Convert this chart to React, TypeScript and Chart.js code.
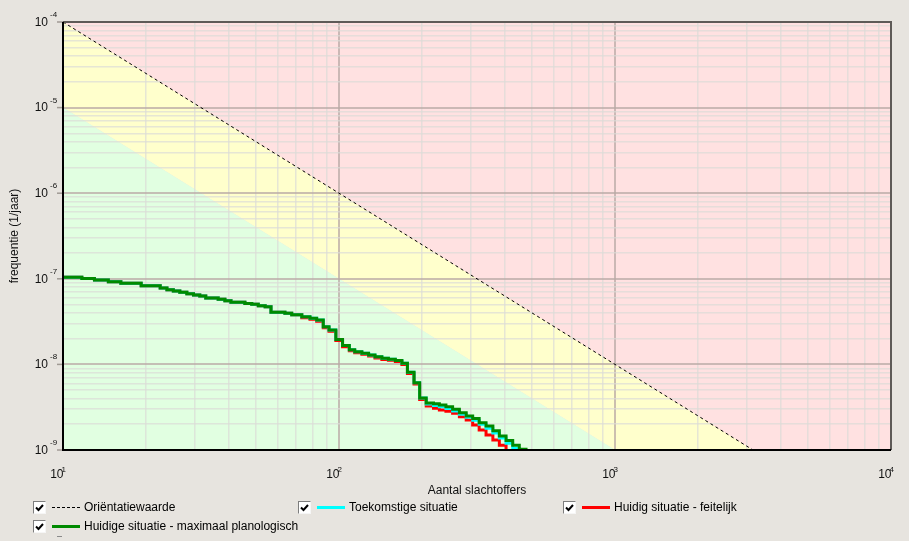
import { useEffect, useRef } from 'react';
import { Chart, registerables, type ChartConfiguration, type Plugin } from 'chart.js';

Chart.register(...registerables);

// axis decades (powers of ten) and the minor grid steps inside each decade
const xDecades = [1, 2, 3, 4];
const yDecades = [-9, -8, -7, -6, -5, -4];
const minorSteps = [2, 3, 4, 5, 6, 7, 8, 9];

// orientatiewaarde (1e-2 / N^2) and the lower limit of the yellow band (1e-3 / N^2)
const limitN = [10, 10000];
const orientF = [1e-4, 1e-10];
const lowerF = [1e-5, 1e-11];

// FN curves (step drops at these N)
const stepN = [
  10, 11.7, 13, 14.6, 16.2, 19.2, 22.5, 23.8, 25.1, 26.5, 28.1, 29.7, 31.3, 32.9, 36.5, 38.6,
  40.6, 45.6, 48.3, 51, 54, 56.7, 63.7, 67.4, 73.3, 78.5, 83, 87.7, 92, 97.4, 103, 109,
  114, 121, 128, 135, 143, 151, 160, 169, 177, 187, 196, 207, 220, 231, 244, 258,
  273, 289, 305, 322, 341, 361, 381, 403, 426, 450, 476,
];
const greenF = [
  1.04e-7, 1.01e-7, 9.7e-8, 9.25e-8, 8.85e-8, 8.3e-8, 7.8e-8, 7.47e-8, 7.2e-8, 6.95e-8, 6.7e-8, 6.47e-8, 6.3e-8, 5.97e-8, 5.75e-8, 5.55e-8,
  5.31e-8, 5.16e-8, 5.03e-8, 4.85e-8, 4.72e-8, 4.06e-8, 3.95e-8, 3.81e-8, 3.61e-8, 3.46e-8, 3.3e-8, 2.76e-8, 2.52e-8, 1.96e-8, 1.66e-8, 1.48e-8,
  1.41e-8, 1.35e-8, 1.29e-8, 1.23e-8, 1.18e-8, 1.15e-8, 1.11e-8, 1.03e-8, 8.1e-9, 6.1e-9, 4.05e-9, 3.55e-9, 3.48e-9, 3.36e-9, 3.21e-9, 2.99e-9,
  2.73e-9, 2.49e-9, 2.34e-9, 2.08e-9, 1.91e-9, 1.68e-9, 1.46e-9, 1.29e-9, 1.14e-9, 1.02e-9, 5e-10,
];
const redF = [
  1.04e-7, 1.01e-7, 9.7e-8, 9.25e-8, 8.85e-8, 8.3e-8, 7.8e-8, 7.47e-8, 7.2e-8, 6.95e-8, 6.7e-8, 6.47e-8, 6.3e-8, 5.97e-8, 5.75e-8, 5.55e-8,
  5.31e-8, 5.16e-8, 5.03e-8, 4.85e-8, 4.72e-8, 4.06e-8, 3.95e-8, 3.81e-8, 3.5e-8, 3.36e-8, 3.2e-8, 2.68e-8, 2.44e-8, 1.9e-8, 1.61e-8, 1.44e-8,
  1.37e-8, 1.31e-8, 1.25e-8, 1.19e-8, 1.14e-8, 1.12e-8, 1.08e-8, 1e-8, 7.85e-9, 5.9e-9, 3.9e-9, 3.27e-9, 3.07e-9, 2.93e-9, 2.83e-9, 2.68e-9,
  2.45e-9, 2.24e-9, 1.96e-9, 1.71e-9, 1.5e-9, 1.31e-9, 1.14e-9, 5e-10, 5e-10, 5e-10, 5e-10,
];
const cyanF = [
  1.04e-7, 1.01e-7, 9.7e-8, 9.25e-8, 8.85e-8, 8.3e-8, 7.8e-8, 7.47e-8, 7.2e-8, 6.95e-8, 6.7e-8, 6.47e-8, 6.3e-8, 5.97e-8, 5.75e-8, 5.55e-8,
  5.31e-8, 5.16e-8, 5.03e-8, 4.85e-8, 4.72e-8, 4.06e-8, 3.95e-8, 3.81e-8, 3.61e-8, 3.46e-8, 3.3e-8, 2.76e-8, 2.52e-8, 1.96e-8, 1.66e-8, 1.48e-8,
  1.41e-8, 1.35e-8, 1.29e-8, 1.23e-8, 1.18e-8, 1.15e-8, 1.11e-8, 1.03e-8, 8.1e-9, 6.1e-9, 4.05e-9, 3.45e-9, 3.3e-9, 3.2e-9, 3.05e-9, 2.85e-9,
  2.62e-9, 2.42e-9, 2.22e-9, 2.0e-9, 1.8e-9, 1.58e-9, 1.38e-9, 1.2e-9, 1.04e-9, 5e-10, 5e-10,
];

const legendItems = [
  { label: 'Oriëntatiewaarde', color: '#000000', dash: true, col: 0, row: 0 },
  { label: 'Toekomstige situatie', color: '#00ffff', dash: false, col: 1, row: 0 },
  { label: 'Huidig situatie - feitelijk', color: '#ff0000', dash: false, col: 2, row: 0 },
  { label: 'Huidige situatie - maximaal planologisch', color: '#008a00', dash: false, col: 0, row: 1 },
];

const FONT = '"Liberation Sans", Arial, sans-serif';

function logTicks(decades: number[]) {
  const ticks: { value: number; major: boolean }[] = [];
  decades.forEach((e, i) => {
    ticks.push({ value: Number('1e' + e), major: true });
    if (i < decades.length - 1) {
      minorSteps.forEach(m => ticks.push({ value: Number(m + 'e' + e), major: false }));
    }
  });
  return ticks;
}

const axesPlugin: Plugin<'line'> = {
  id: 'fnAxes',
  afterDraw(chart) {
    const { ctx, chartArea: a } = chart;
    const xs = chart.scales.x;
    const ys = chart.scales.y;
    ctx.save();

    ctx.strokeStyle = '#a09a94';
    ctx.lineWidth = 1.5;
    yDecades.forEach(e => {
      const py = ys.getPixelForValue(Number('1e' + e));
      ctx.beginPath();
      ctx.moveTo(a.left - 6, py);
      ctx.lineTo(a.left, py);
      ctx.stroke();
    });

    ctx.lineWidth = 2;
    ctx.strokeStyle = '#5e5a57';
    ctx.beginPath();
    ctx.moveTo(a.left, a.top);
    ctx.lineTo(a.right, a.top);
    ctx.lineTo(a.right, a.bottom);
    ctx.stroke();
    ctx.strokeStyle = '#000';
    ctx.beginPath();
    ctx.moveTo(a.left, a.top);
    ctx.lineTo(a.left, a.bottom);
    ctx.lineTo(a.right, a.bottom);
    ctx.stroke();

    ctx.fillStyle = '#111';
    yDecades.forEach(e => {
      const py = ys.getPixelForValue(Number('1e' + e));
      ctx.font = '12px ' + FONT;
      ctx.textAlign = 'right';
      ctx.textBaseline = 'middle';
      ctx.fillText('10', a.left - 15, py + 0.5);
      ctx.font = '8px ' + FONT;
      ctx.textAlign = 'left';
      ctx.textBaseline = 'alphabetic';
      ctx.fillText(String(e), a.left - 13, py - 5);
    });
    xDecades.forEach(e => {
      const px = xs.getPixelForValue(Number('1e' + e));
      ctx.font = '12px ' + FONT;
      ctx.textAlign = 'right';
      ctx.textBaseline = 'middle';
      ctx.fillText('10', px + 0.5, a.bottom + 25);
      ctx.font = '8px ' + FONT;
      ctx.textAlign = 'left';
      ctx.textBaseline = 'alphabetic';
      ctx.fillText(String(e), px - 1.5, a.bottom + 21.5);
    });

    ctx.font = '12px ' + FONT;
    ctx.textAlign = 'center';
    ctx.textBaseline = 'middle';
    ctx.fillText('Aantal slachtoffers', (a.left + a.right) / 2, a.bottom + 41);
    ctx.translate(15, (a.top + a.bottom) / 2);
    ctx.rotate(-Math.PI / 2);
    ctx.fillText('frequentie (1/jaar)', 0, 0);
    ctx.restore();
  },
};

function CheckBox({ left, top }: { left: number; top: number }) {
  return (
    <div
      style={{
        position: 'absolute', left, top, width: 13, height: 13, boxSizing: 'border-box',
        background: '#fff', borderStyle: 'solid', borderWidth: 1,
        borderColor: '#7d7d7d #f6f6f6 #f6f6f6 #7d7d7d',
      }}
    >
      <svg width="11" height="11" style={{ display: 'block' }}>
        <polyline points="2,5.5 4.5,8 9,3" fill="none" stroke="#000" strokeWidth="2" />
      </svg>
    </div>
  );
}

export default function App() {
  const chartRef = useRef<HTMLCanvasElement>(null);
  const chartInstanceRef = useRef<Chart | null>(null);

  useEffect(() => {
    if (chartInstanceRef.current) {
      chartInstanceRef.current.destroy();
    }
    const canvas = chartRef.current;
    if (!canvas) {
      return;
    }

    const curve = (values: number[]) => stepN.map((n, i) => ({ x: n, y: values[i] }));
    const limit = (values: number[]) => limitN.map((n, i) => ({ x: n, y: values[i] }));

    const gridColor = (c: any) => (c.tick && c.tick.major ? 'rgba(185,170,165,0.75)' : 'rgba(220,220,215,0.7)');
    const gridWidth = (c: any) => (c.tick && c.tick.major ? 2 : 1.5);

    // zone fills are drawn before the grid: yellow first, then pink and green on top of it
    const config: ChartConfiguration<'line', { x: number; y: number }[], string> = {
      type: 'line',
      data: {
        datasets: [
          {
            label: 'Oriëntatiewaarde',
            data: limit(orientF),
            borderColor: '#000',
            borderWidth: 1,
            borderDash: [3, 3],
            backgroundColor: '#ffe1e1',
            fill: 'end',
            pointRadius: 0,
            order: 3,
          },
          {
            label: 'geel',
            data: limit(lowerF),
            borderWidth: 0,
            borderColor: 'rgba(0,0,0,0)',
            backgroundColor: '#ffffcc',
            fill: 'end',
            pointRadius: 0,
            order: 6,
          },
          {
            label: 'groen',
            data: limit(lowerF),
            borderWidth: 0,
            borderColor: 'rgba(0,0,0,0)',
            backgroundColor: '#e1ffe1',
            fill: 'start',
            pointRadius: 0,
            order: 5,
          },
          {
            label: 'Huidig situatie - feitelijk',
            data: curve(redF),
            borderColor: '#ff0000',
            borderWidth: 3,
            stepped: true,
            fill: false,
            pointRadius: 0,
            order: 2,
          },
          {
            label: 'Toekomstige situatie',
            data: curve(cyanF),
            borderColor: '#00ffff',
            borderWidth: 3,
            stepped: true,
            fill: false,
            pointRadius: 0,
            order: 1,
          },
          {
            label: 'Huidige situatie - maximaal planologisch',
            data: curve(greenF),
            borderColor: '#008a00',
            borderWidth: 3,
            stepped: true,
            fill: false,
            pointRadius: 0,
            order: 0,
          },
        ],
      },
      options: {
        animation: false,
        responsive: false,
        events: [],
        layout: { padding: { left: 63, top: 22, right: 18, bottom: 91 } },
        scales: {
          x: {
            type: 'logarithmic',
            min: 10,
            max: 10000,
            afterBuildTicks: axis => {
              axis.ticks = logTicks(xDecades);
            },
            ticks: { display: false },
            border: { display: false },
            grid: { color: gridColor, lineWidth: gridWidth, drawTicks: false },
          },
          y: {
            type: 'logarithmic',
            min: 1e-9,
            max: 1e-4,
            afterBuildTicks: axis => {
              axis.ticks = logTicks(yDecades);
            },
            ticks: { display: false },
            border: { display: false },
            grid: { color: gridColor, lineWidth: gridWidth, drawTicks: false },
          },
        },
        plugins: {
          legend: { display: false },
          tooltip: { enabled: false },
          filler: { drawTime: 'beforeDraw' },
        },
      },
      plugins: [axesPlugin],
    };

    chartInstanceRef.current = new Chart(canvas, config);

    return () => {
      chartInstanceRef.current?.destroy();
      chartInstanceRef.current = null;
    };
  }, []);

  const colX = [33, 298, 563];
  const rowY = [507, 526];

  return (
    <div
      style={{
        position: 'fixed', left: 0, top: 0, width: 909, height: 541, overflow: 'hidden',
        background: '#e7e4df', fontFamily: FONT, fontSize: 12, color: '#000',
      }}
    >
      <canvas ref={chartRef} width={909} height={541} style={{ position: 'absolute', left: 0, top: 0 }} />
      {legendItems.map(item => {
        const x = colX[item.col];
        const y = rowY[item.row];
        return (
          <div key={item.label}>
            <CheckBox left={x} top={y - 6.5} />
            <svg width="28" height="5" style={{ position: 'absolute', left: x + 19, top: y - 2.5 }}>
              <line
                x1="0" y1="2.5" x2="28" y2="2.5"
                stroke={item.color}
                strokeWidth={item.dash ? 1 : 3}
                strokeDasharray={item.dash ? '3,2' : undefined}
              />
            </svg>
            <div
              style={{
                position: 'absolute', left: x + 51, top: y - 8, lineHeight: '16px', whiteSpace: 'nowrap',
              }}
            >
              {item.label}
            </div>
          </div>
        );
      })}
      <div style={{ position: 'absolute', left: 57, top: 536, width: 5, height: 1, background: '#8a8a8a' }} />
    </div>
  );
}
